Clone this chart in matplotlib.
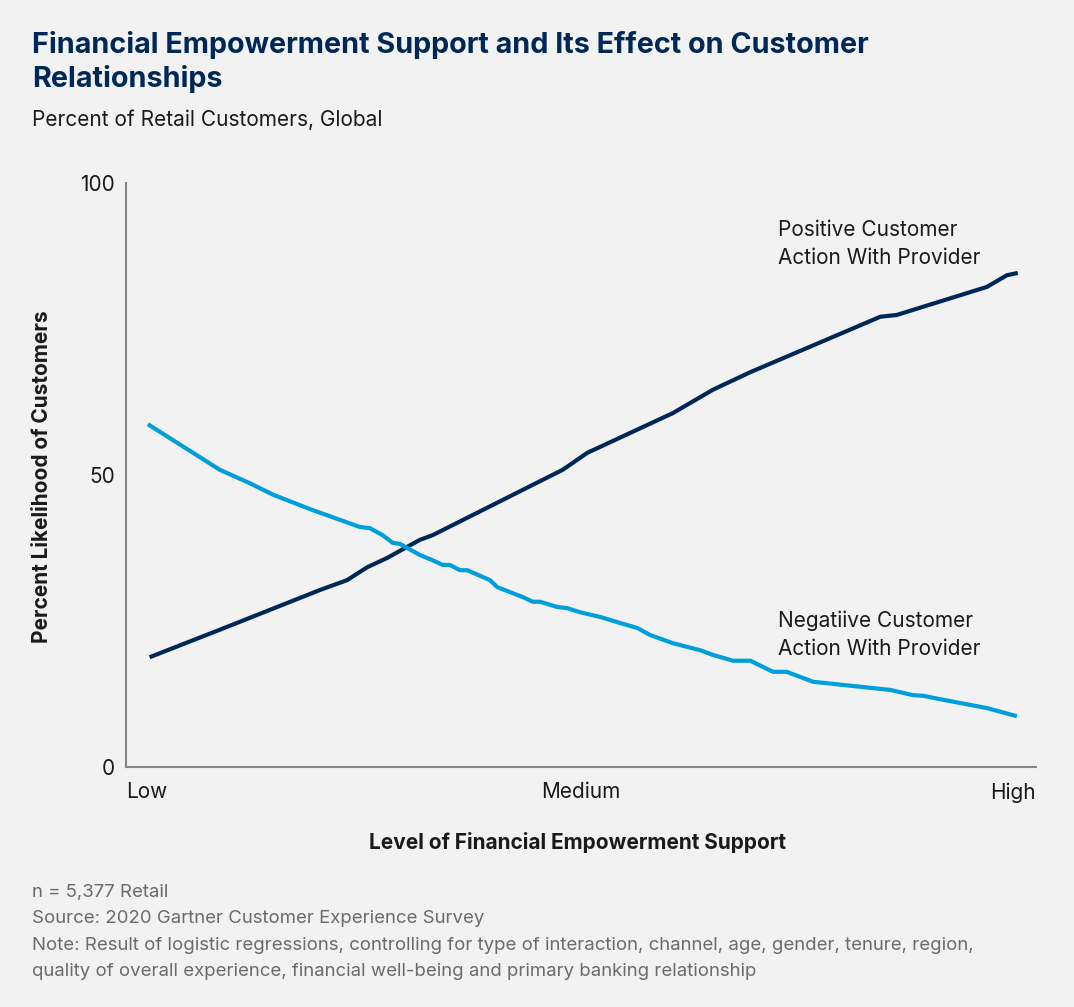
import matplotlib.pyplot as plt

# level of support (0 = Low, 50 = Medium, 100 = High)
pos_x = [2.6, 10.3, 21.3, 24.3, 26.5, 28.7, 32.3, 33.7, 48.0, 50.7, 60.1, 64.5,
         68.6, 82.9, 84.7, 94.6, 96.8, 98.0]
pos_y = [18.8, 23.5, 30.3, 32.0, 34.2, 35.8, 38.9, 39.7, 50.9, 53.8, 60.6, 64.6,
         67.6, 77.1, 77.4, 82.2, 84.2, 84.6]

neg_x = [2.4, 10.3, 13.6, 16.2, 20.5, 25.7, 26.8, 28.2, 29.3, 30.1, 32.3, 33.7,
         34.8, 35.6, 36.7, 37.5, 40.0, 40.8, 43.6, 44.7, 45.5, 47.4, 48.5, 49.9,
         52.1, 54.0, 56.2, 57.6, 60.1, 63.1, 64.5, 66.7, 68.6, 71.1, 72.6, 75.5,
         84.0, 86.5, 87.6, 89.5, 94.6, 97.9]
neg_y = [58.7, 50.9, 48.6, 46.6, 44.0, 41.1, 40.9, 39.7, 38.4, 38.2, 36.3, 35.4,
         34.6, 34.6, 33.7, 33.7, 32.0, 30.8, 29.1, 28.3, 28.3, 27.4, 27.2, 26.5,
         25.7, 24.8, 23.8, 22.6, 21.2, 20.0, 19.2, 18.2, 18.2, 16.3, 16.3, 14.6,
         13.2, 12.3, 12.2, 11.6, 10.1, 8.7]

x_ticks = [0, 50, 100]
x_labels = ['Low', 'Medium', 'High']
y_ticks = [0, 50, 100]

navy = '#002856'
blue = '#009fdb'
bg = '#f2f2f2'
txt = '#1a1a1a'

plt.rcParams['font.family'] = ['Inter', 'DejaVu Sans']

fig = plt.figure(figsize=(10.74, 10.07), dpi=100, facecolor=bg)
ax = fig.add_axes([0.1173, 0.2383, 0.8473, 0.58])
ax.set_facecolor(bg)

ax.plot(pos_x, pos_y, color=navy, linewidth=3.0, solid_capstyle='butt')
ax.plot(neg_x, neg_y, color=blue, linewidth=3.0, solid_capstyle='butt')

ax.set_xlim(0, 100)
ax.set_ylim(0, 100)
for s in ['top', 'right']:
    ax.spines[s].set_visible(False)
for s in ['left', 'bottom']:
    ax.spines[s].set_color('#7f8788')
    ax.spines[s].set_linewidth(1.5)

ax.set_yticks(y_ticks)
ax.set_yticklabels([str(v) for v in y_ticks], fontsize=15, color=txt)
ax.set_xticks(x_ticks)
ax.set_xticklabels(x_labels, fontsize=15, color=txt)
xl = ax.get_xticklabels()
xl[0].set_ha('left')
xl[2].set_ha('right')
ax.tick_params(axis='both', length=0)
ax.tick_params(axis='y', pad=8)
ax.tick_params(axis='x', pad=11)

ax.text(71.6, 93.6, 'Positive Customer\nAction With Provider', fontsize=15,
        color=txt, va='top', ha='left', linespacing=1.5)
ax.text(71.6, 26.8, 'Negatiive Customer\nAction With Provider', fontsize=15,
        color=txt, va='top', ha='left', linespacing=1.5)

fig.text(0.03, 0.969, 'Financial Empowerment Support and Its Effect on Customer\nRelationships',
         fontsize=20.7, fontweight='bold', color=navy, va='top', ha='left', linespacing=1.28)
fig.text(0.03, 0.881, 'Percent of Retail Customers, Global', fontsize=15,
         color=txt, va='center', ha='left')
fig.text(0.039, 0.527, 'Percent Likelihood of Customers', fontsize=15,
         fontweight='bold', color=txt, rotation=90, va='center', ha='center')
fig.text(0.538, 0.163, 'Level of Financial Empowerment Support', fontsize=15,
         fontweight='bold', color=txt, va='center', ha='center')

notes = ['n = 5,377 Retail',
         'Source: 2020 Gartner Customer Experience Survey',
         'Note: Result of logistic regressions, controlling for type of interaction, channel, age, gender, tenure, region,',
         'quality of overall experience, financial well-being and primary banking relationship']
for i, line in enumerate(notes):
    fig.text(0.03, 1 - (892 + 26.5 * i) / 1007, line, fontsize=13.4,
             color='#6b6b6b', va='center', ha='left')

fig.savefig('out.png', dpi=100, facecolor=bg)
